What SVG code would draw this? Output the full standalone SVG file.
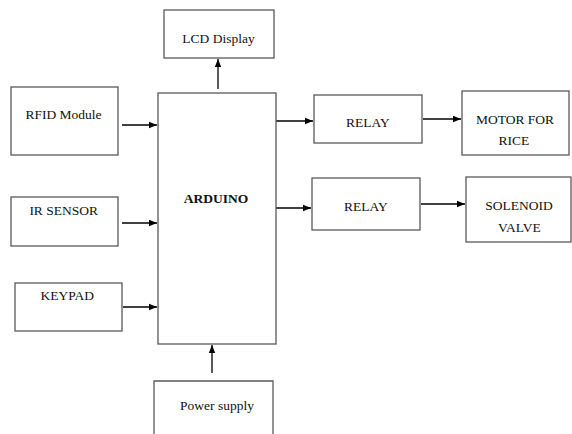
<svg xmlns="http://www.w3.org/2000/svg" width="572" height="434" viewBox="0 0 572 434">
<style>
.box{fill:#fff;stroke:#5a5a5a;stroke-width:1.3}
.t{font-family:'Liberation Serif','Times New Roman',Times,'DejaVu Serif',serif;font-size:13.5px;fill:#111;text-anchor:middle}
.b{font-weight:bold}
.c{stroke:#000;stroke-width:1.3;fill:none;marker-end:url(#ah)}
</style>
<defs>
<marker id="ah" viewBox="0 0 8 8" refX="8" refY="4" markerWidth="8" markerHeight="8" markerUnits="userSpaceOnUse" orient="auto">
<path d="M0,0.8 L8,4 L0,7.2 Z" fill="#000"/>
</marker>
</defs>
<rect width="572" height="434" fill="#fff"/>
<g id="connectors">
<path class="c" d="M218,89 V59"/>
<path class="c" d="M122,125 H157"/>
<path class="c" d="M122,223 H157"/>
<path class="c" d="M123,307 H157"/>
<path class="c" d="M212,373 V345"/>
<path class="c" d="M276,121 H313"/>
<path class="c" d="M276,208 H311"/>
<path class="c" d="M423,119 H461"/>
<path class="c" d="M421,204 H465"/>
</g>
<g id="lcd"><rect class="box" x="164" y="10" width="110" height="48"/><text class="t" x="218.5" y="42.5" font-family="Liberation Serif, serif">LCD Display</text></g>
<g id="arduino"><rect class="box" x="158" y="93" width="118" height="251"/><text class="t b" x="216" y="203">ARDUINO</text></g>
<g id="rfid"><rect class="box" x="11" y="87" width="107" height="68"/><text class="t" x="63.5" y="119">RFID Module</text></g>
<g id="ir"><rect class="box" x="11" y="197" width="107" height="49"/><text class="t" x="63.7" y="215">IR SENSOR</text></g>
<g id="keypad"><rect class="box" x="15" y="283" width="107" height="48"/><text class="t" x="67.3" y="300">KEYPAD</text></g>
<g id="power"><path class="box" d="M154,436 V381 H273 V436"/><text class="t" x="217" y="410">Power supply</text></g>
<g id="relay1"><rect class="box" x="314" y="95" width="108" height="48"/><text class="t" x="368" y="127">RELAY</text></g>
<g id="motor"><rect class="box" x="462" y="91" width="107" height="64"/><text class="t" x="515" y="124">MOTOR FOR</text><text class="t" x="514" y="145">RICE</text></g>
<g id="relay2"><rect class="box" x="312" y="178" width="108" height="52"/><text class="t" x="366" y="211">RELAY</text></g>
<g id="solenoid"><rect class="box" x="466" y="177" width="105" height="65"/><text class="t" x="519" y="210">SOLENOID</text><text class="t" x="519.5" y="232">VALVE</text></g>
</svg>
